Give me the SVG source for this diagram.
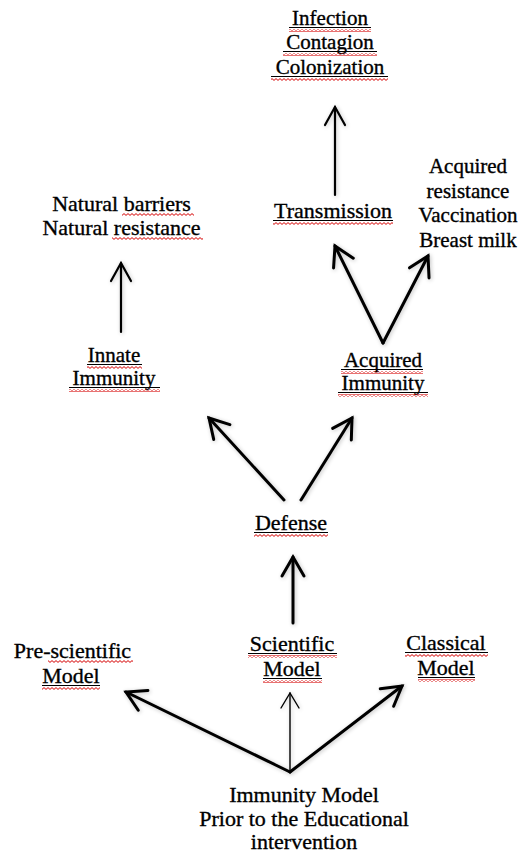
<svg xmlns="http://www.w3.org/2000/svg" width="524" height="855" viewBox="0 0 524 855">
<defs>
<style>
text{fill:#000;text-anchor:middle;stroke:#000;stroke-width:0.35}
.ul{stroke:#000;stroke-width:1}
.sq{fill:url(#squiggle)}
.arr{fill:none;stroke:#000;stroke-width:3;stroke-linecap:round;marker-end:url(#head)}
.arr2{fill:none;stroke:#000;stroke-width:2.2;stroke-linecap:round;marker-end:url(#head2)}
.thin{fill:none;stroke:#000;stroke-width:1.4;stroke-linecap:round;marker-end:url(#head3)}
</style>
<pattern id="squiggle" width="4" height="3" patternUnits="userSpaceOnUse">
<path d="M0,0.6 L2,2.4 L4,0.6" fill="none" stroke="#d40000" stroke-width="1"/>
</pattern>
<marker id="head" markerUnits="userSpaceOnUse" markerWidth="30" markerHeight="30" viewBox="-22 -15 30 30" refX="0" refY="0" orient="auto">
<path d="M-19,-11 L0,0 L-19,11" fill="none" stroke="#000" stroke-width="3" stroke-linecap="round"/>
</marker>
<marker id="head2" markerUnits="userSpaceOnUse" markerWidth="30" markerHeight="30" viewBox="-22 -15 30 30" refX="0" refY="0" orient="auto">
<path d="M-18,-10 L0,0 L-18,10" fill="none" stroke="#000" stroke-width="2.2" stroke-linecap="round"/>
</marker>
<marker id="head3" markerUnits="userSpaceOnUse" markerWidth="30" markerHeight="30" viewBox="-22 -15 30 30" refX="0" refY="0" orient="auto">
<path d="M-15,-9 L0,0 L-15,9" fill="none" stroke="#000" stroke-width="1.4" stroke-linecap="round"/>
</marker>
<filter id="shadow" x="-20%" y="-20%" width="140%" height="140%">
<feGaussianBlur in="SourceAlpha" stdDeviation="2"/>
<feOffset dx="1" dy="1" result="b"/>
<feComponentTransfer><feFuncA type="linear" slope="0.25"/></feComponentTransfer>
<feMerge><feMergeNode/><feMergeNode in="SourceGraphic"/></feMerge>
</filter>
</defs>
<rect width="524" height="855" fill="#fff"/>

<g id="connectors" filter="url(#shadow)">
<line class="arr2" x1="335" y1="195" x2="335" y2="107"/>
<line class="arr2" x1="121" y1="332" x2="121" y2="263"/>
<line class="arr" x1="383" y1="343" x2="335" y2="246"/>
<line class="arr" x1="383" y1="343" x2="428" y2="256"/>
<line class="arr" x1="284" y1="500" x2="209" y2="418"/>
<line class="arr" x1="301" y1="500" x2="352" y2="418"/>
<line class="arr" x1="293" y1="623" x2="293" y2="557"/>
<line class="arr" x1="290" y1="772" x2="126" y2="692"/>
<line class="thin" x1="290" y1="772" x2="290" y2="693"/>
<line class="arr" x1="290" y1="772" x2="402" y2="686"/>
</g>

<g font-family="'Liberation Serif', 'Times New Roman', 'DejaVu Serif', serif" font-size="22">
<g id="node-infection" font-size="21">
<text x="330" y="25">Infection</text>
<text x="330" y="49">Contagion</text>
<text x="330" y="74">Colonization</text>
<line class="ul" x1="289" y1="27.5" x2="371" y2="27.5"/>
<line class="ul" x1="283" y1="51.5" x2="377" y2="51.5"/>
<line class="ul" x1="271" y1="76.5" x2="388" y2="76.5"/>
<rect class="sq" x="289" y="29" width="82" height="3"/>
<rect class="sq" x="283" y="53" width="94" height="3"/>
<rect class="sq" x="271" y="78" width="117" height="3"/>
</g>

<g id="node-natural">
<text x="121.5" y="211">Natural barriers</text>
<text x="121.5" y="235">Natural resistance</text>
<rect class="sq" x="122" y="213" width="72" height="3"/>
<rect class="sq" x="112" y="237" width="91" height="3"/>
</g>

<g id="node-transmission">
<text x="333" y="218">Transmission</text>
<line class="ul" x1="273" y1="220.5" x2="393" y2="220.5"/>
<rect class="sq" x="273" y="222" width="120" height="3"/>
</g>

<g id="node-acquired-resistance" font-size="21">
<text x="468" y="173">Acquired</text>
<text x="468" y="198">resistance</text>
<text x="468" y="222">Vaccination</text>
<text x="468" y="247">Breast milk</text>
</g>

<g id="node-innate" font-size="21">
<text x="114" y="362">Innate</text>
<text x="114" y="385">Immunity</text>
<line class="ul" x1="87" y1="364.5" x2="142" y2="364.5"/>
<line class="ul" x1="69" y1="387.5" x2="160" y2="387.5"/>
<rect class="sq" x="87" y="366" width="55" height="3"/>
<rect class="sq" x="69" y="389" width="91" height="3"/>
</g>

<g id="node-acquired-immunity" font-size="21">
<text x="383" y="367">Acquired</text>
<text x="383" y="390">Immunity</text>
<line class="ul" x1="341" y1="369.5" x2="423" y2="369.5"/>
<line class="ul" x1="338" y1="392.5" x2="428" y2="392.5"/>
<rect class="sq" x="341" y="371" width="82" height="3"/>
<rect class="sq" x="338" y="394" width="90" height="3"/>
</g>

<g id="node-defense">
<text x="291" y="530">Defense</text>
<line class="ul" x1="254" y1="532.5" x2="328" y2="532.5"/>
<rect class="sq" x="254" y="534" width="74" height="3"/>
</g>

<g id="node-prescientific">
<text x="72.5" y="658">Pre-scientific</text>
<text x="71" y="683">Model</text>
<line class="ul" x1="42" y1="685.5" x2="100" y2="685.5"/>
<rect class="sq" x="48" y="660" width="85" height="3"/>
<rect class="sq" x="42" y="687" width="58" height="3"/>
</g>

<g id="node-scientific">
<text x="292" y="651">Scientific</text>
<text x="292" y="676">Model</text>
<line class="ul" x1="248" y1="653.5" x2="337" y2="653.5"/>
<line class="ul" x1="263" y1="678.5" x2="322" y2="678.5"/>
<rect class="sq" x="248" y="655" width="89" height="3"/>
<rect class="sq" x="263" y="680" width="59" height="3"/>
</g>

<g id="node-classical">
<text x="446" y="650">Classical</text>
<text x="446" y="675">Model</text>
<line class="ul" x1="405" y1="652.5" x2="488" y2="652.5"/>
<line class="ul" x1="418" y1="677.5" x2="475" y2="677.5"/>
<rect class="sq" x="405" y="654" width="83" height="3"/>
<rect class="sq" x="418" y="679" width="57" height="3"/>
</g>

<g id="node-immunity-model">
<text x="304" y="802">Immunity Model</text>
<text x="304" y="826">Prior to the Educational</text>
<text x="304" y="849">intervention</text>
</g>
</g>
</svg>
